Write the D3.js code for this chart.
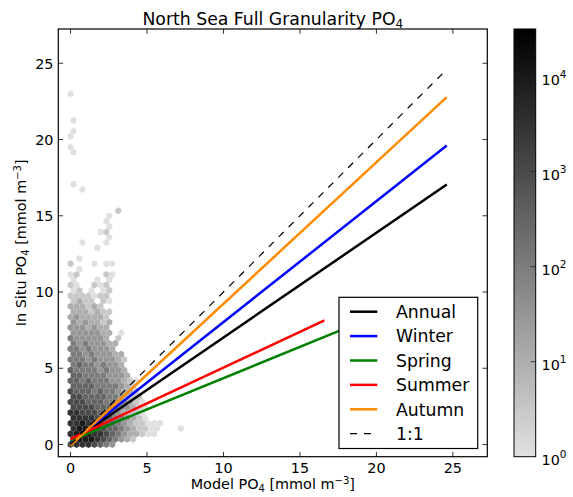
<!DOCTYPE html>
<html><head><meta charset="utf-8">
<script src="https://cdn.jsdelivr.net/npm/d3@7"></script>
<style>
body{margin:0;background:#fff;}
svg{display:block;font-family:"DejaVu Sans","Bitstream Vera Sans",sans-serif;}
</style>
</head><body>
<svg id="chart" width="573" height="497"></svg>
<script>
// ---------------- data ----------------
const xTicks = [0, 5, 10, 15, 20, 25];
const yTicks = [0, 5, 10, 15, 20, 25];
const cbTicks = [1, 10, 100, 1000, 10000];
const cbExp = ["0", "1", "2", "3", "4"];
// hexbin grid: bin width in model units, row spacing in in-situ units
const binWidth = 0.39;
const rowStep = 0.3485;
// count level for each character in hexRows
const levelCounts = [1, 3, 10, 30, 100, 300, 1000, 3000, 10000, 30000];
// one string per hex row (row 0 at in-situ = 0); odd rows are shifted by half a bin
const hexRows = [
  "67776543",
  "78887654321",
  "789877654322100",
  "788876554321100...0",
  "7787765543211000",
  "7777665443210",
  "7766655432110",
  "6666555433210",
  "6665554433210",
  "665555443211",
  "655545443221",
  "55554444321",
  "554544433210",
  "5544443332",
  "5444434332",
  "454434332",
  "4443433321",
  "443433322",
  "44343332",
  "43433322",
  "4333332.1",
  "3333322.0",
  "3332322",
  "3232212",
  "2322221",
  "2221211",
  "222121",
  "1211.10",
  "1111011",
  "01.0.01",
  "10..101",
  "0...0.0",
  "01....10",
  ".0",
  "1...0.00",
  ".0",
  "",
  "....0",
  "..0...0",
  "......0",
  ".....01",
  "......0",
  "......0",
  "......0",
  "........1",
  "", "", "",
  "..0",
  "0",
  "", "", "", "", "",
  "0",
  "0",
  "",
  "0",
  "0",
  "",
  "0",
  "", "", "", "",
  "0"
];
// regression fits
const fitNames = ["Annual", "Winter", "Spring", "Summer", "Autumn", "1:1"];
const fitIntercepts = [0.15, 0.10, 0.25, 0.35, -0.05, 0];
const fitSlopes = [0.687, 0.793, 0.41, 0.469, 0.928, 1];
const fitXMin = [0, 0, 0, 0, 0, 0];
const fitXMax = [24.6, 24.6, 20.0, 16.6, 24.6, 24.45];

// ---------------- styles ----------------
const fitColors = ["#000000", "#0000ff", "#008000", "#ff0000", "#ff8c00", "#000000"];
const fitDash = [null, null, null, null, null, "7,7"];
const fitWidth = [2.5, 2.5, 2.5, 2.5, 2.5, 1.2];

const W = 573, H = 497;
const L = 58.3, R = 487.3, T = 29, B = 456.7;
const svg = d3.select("#chart");

const x = d3.scaleLinear().domain([-0.8, 27.25]).range([L, R]);
const y = d3.scaleLinear().domain([-0.8, 27.25]).range([B, T]);
const color = d3.scaleLog().domain([1, Math.pow(10, 4.5)]).range(["#e0e0e0", "#000000"]).interpolate(d3.interpolateRgb).clamp(true);

svg.append("defs").append("clipPath").attr("id", "clip")
  .append("rect").attr("x", L).attr("y", T).attr("width", R - L).attr("height", B - T);

// ---------------- hexbin ----------------
const cells = [];
hexRows.forEach((row, k) => {
  for (let i = 0; i < row.length; i++) {
    const ch = row[i];
    if (ch === "." || ch === " ") continue;
    const lv = +ch;
    cells.push({cx: (i + (k % 2) * 0.5) * binWidth, cy: k * rowStep, count: levelCounts[lv]});
  }
});
const sy = 2 * rowStep;
const hexOff = [[0.5, -1/6], [0.5, 1/6], [0, 1/3], [-0.5, 1/6], [-0.5, -1/6], [0, -1/3]];
const gHex = svg.append("g").attr("clip-path", "url(#clip)");
gHex.selectAll("path").data(cells).join("path")
  .attr("d", d => "M" + hexOff.map(o => [x(d.cx + o[0] * binWidth), y(d.cy + o[1] * sy)].join(",")).join("L") + "Z")
  .attr("fill", d => color(d.count))
  .attr("stroke", "none");

// ---------------- fit lines ----------------
const gLines = svg.append("g").attr("clip-path", "url(#clip)");
fitNames.forEach((n, j) => {
  const pts = [fitXMin[j], fitXMax[j]].map(v => [x(v), y(fitIntercepts[j] + fitSlopes[j] * v)]);
  gLines.append("path").attr("d", d3.line()(pts))
    .attr("fill", "none").attr("stroke", fitColors[j]).attr("stroke-width", fitWidth[j])
    .attr("stroke-dasharray", fitDash[j]);
});

// ---------------- axes ----------------
const tickLen = 4.8;
const gAx = svg.append("g");
const tickStyle = sel => sel.attr("stroke", "#000").attr("stroke-width", 0.8);
xTicks.forEach(t => {
  gAx.append("line").attr("x1", x(t)).attr("x2", x(t)).attr("y1", B).attr("y2", B - tickLen).call(tickStyle);
  gAx.append("line").attr("x1", x(t)).attr("x2", x(t)).attr("y1", T).attr("y2", T + tickLen).call(tickStyle);
  gAx.append("text").attr("x", x(t)).attr("y", 473).attr("text-anchor", "middle")
    .attr("font-size", 14.4).text(t);
});
yTicks.forEach(t => {
  gAx.append("line").attr("x1", L).attr("x2", L + tickLen).attr("y1", y(t)).attr("y2", y(t)).call(tickStyle);
  gAx.append("line").attr("x1", R).attr("x2", R - tickLen).attr("y1", y(t)).attr("y2", y(t)).call(tickStyle);
  gAx.append("text").attr("x", 53.5).attr("y", y(t) + 5.2).attr("text-anchor", "end")
    .attr("font-size", 14.4).text(t);
});
gAx.append("rect").attr("x", L).attr("y", T).attr("width", R - L).attr("height", B - T)
  .attr("fill", "none").attr("stroke", "#000").attr("stroke-width", 1.2);

// ---------------- legend ----------------
const lg = svg.append("g");
lg.append("rect").attr("x", 339).attr("y", 297.3).attr("width", 138.7).attr("height", 151.2)
  .attr("fill", "#fff").attr("stroke", "#000").attr("stroke-width", 1.2);
fitNames.forEach((n, j) => {
  const cy = 311.7 + j * 24.4;
  lg.append("line").attr("x1", 350).attr("x2", 377.3).attr("y1", cy).attr("y2", cy)
    .attr("stroke", fitColors[j]).attr("stroke-width", fitWidth[j]).attr("stroke-dasharray", fitDash[j]);
  lg.append("text").attr("x", 396).attr("y", cy + 6.2).attr("font-size", 17.28).text(n);
});

// ---------------- titles ----------------
const title = svg.append("text").attr("x", (L + R) / 2).attr("y", 25).attr("text-anchor", "middle").attr("font-size", 17.28);
title.append("tspan").text("North Sea Full Granularity PO");
title.append("tspan").attr("font-size", 12).attr("dy", 3).text("4");

const xl = svg.append("text").attr("x", (L + R) / 2).attr("y", 489).attr("text-anchor", "middle").attr("font-size", 14.4);
xl.append("tspan").text("Model PO");
xl.append("tspan").attr("font-size", 10).attr("dy", 2.5).text("4");
xl.append("tspan").attr("dy", -2.5).text(" [mmol m");
xl.append("tspan").attr("font-size", 10).attr("dy", -5).text("\u22123");
xl.append("tspan").attr("dy", 5).text("]");

const yl = svg.append("text").attr("transform", `translate(26,${(T + B) / 2}) rotate(-90)`).attr("text-anchor", "middle").attr("font-size", 14.4);
yl.append("tspan").text("In Situ PO");
yl.append("tspan").attr("font-size", 10).attr("dy", 2.5).text("4");
yl.append("tspan").attr("dy", -2.5).text(" [mmol m");
yl.append("tspan").attr("font-size", 10).attr("dy", -5).text("\u22123");
yl.append("tspan").attr("dy", 5).text("]");

// ---------------- colorbar ----------------
const cbL = 514, cbR = 535.7, cbT = 29, cbB = 456.7;
const cbScale = d3.scaleLog().domain([1, Math.pow(10, 4.5)]).range([cbB, cbT]);
const grad = svg.select("defs").append("linearGradient").attr("id", "cbgrad")
  .attr("x1", 0).attr("y1", 1).attr("x2", 0).attr("y2", 0);
d3.range(0, 1.0001, 0.05).forEach(f => {
  grad.append("stop").attr("offset", f).attr("stop-color", color(Math.pow(10, 4.5 * f)));
});
svg.append("rect").attr("x", cbL).attr("y", cbT).attr("width", cbR - cbL).attr("height", cbB - cbT)
  .attr("fill", "url(#cbgrad)").attr("stroke", "#000").attr("stroke-width", 1);
cbTicks.forEach((t, i) => {
  const yy = cbScale(t);
  if (i > 0) svg.append("line").attr("x1", cbR - 5).attr("x2", cbR).attr("y1", yy).attr("y2", yy)
    .attr("stroke", "#222").attr("stroke-width", 0.8);
  const tx = svg.append("text").attr("x", 541.5).attr("y", yy + 8.5).attr("font-size", 14.4);
  tx.append("tspan").text("10");
  tx.append("tspan").attr("font-size", 10.5).attr("dy", -7).text(cbExp[i]);
});
</script>
</body></html>
